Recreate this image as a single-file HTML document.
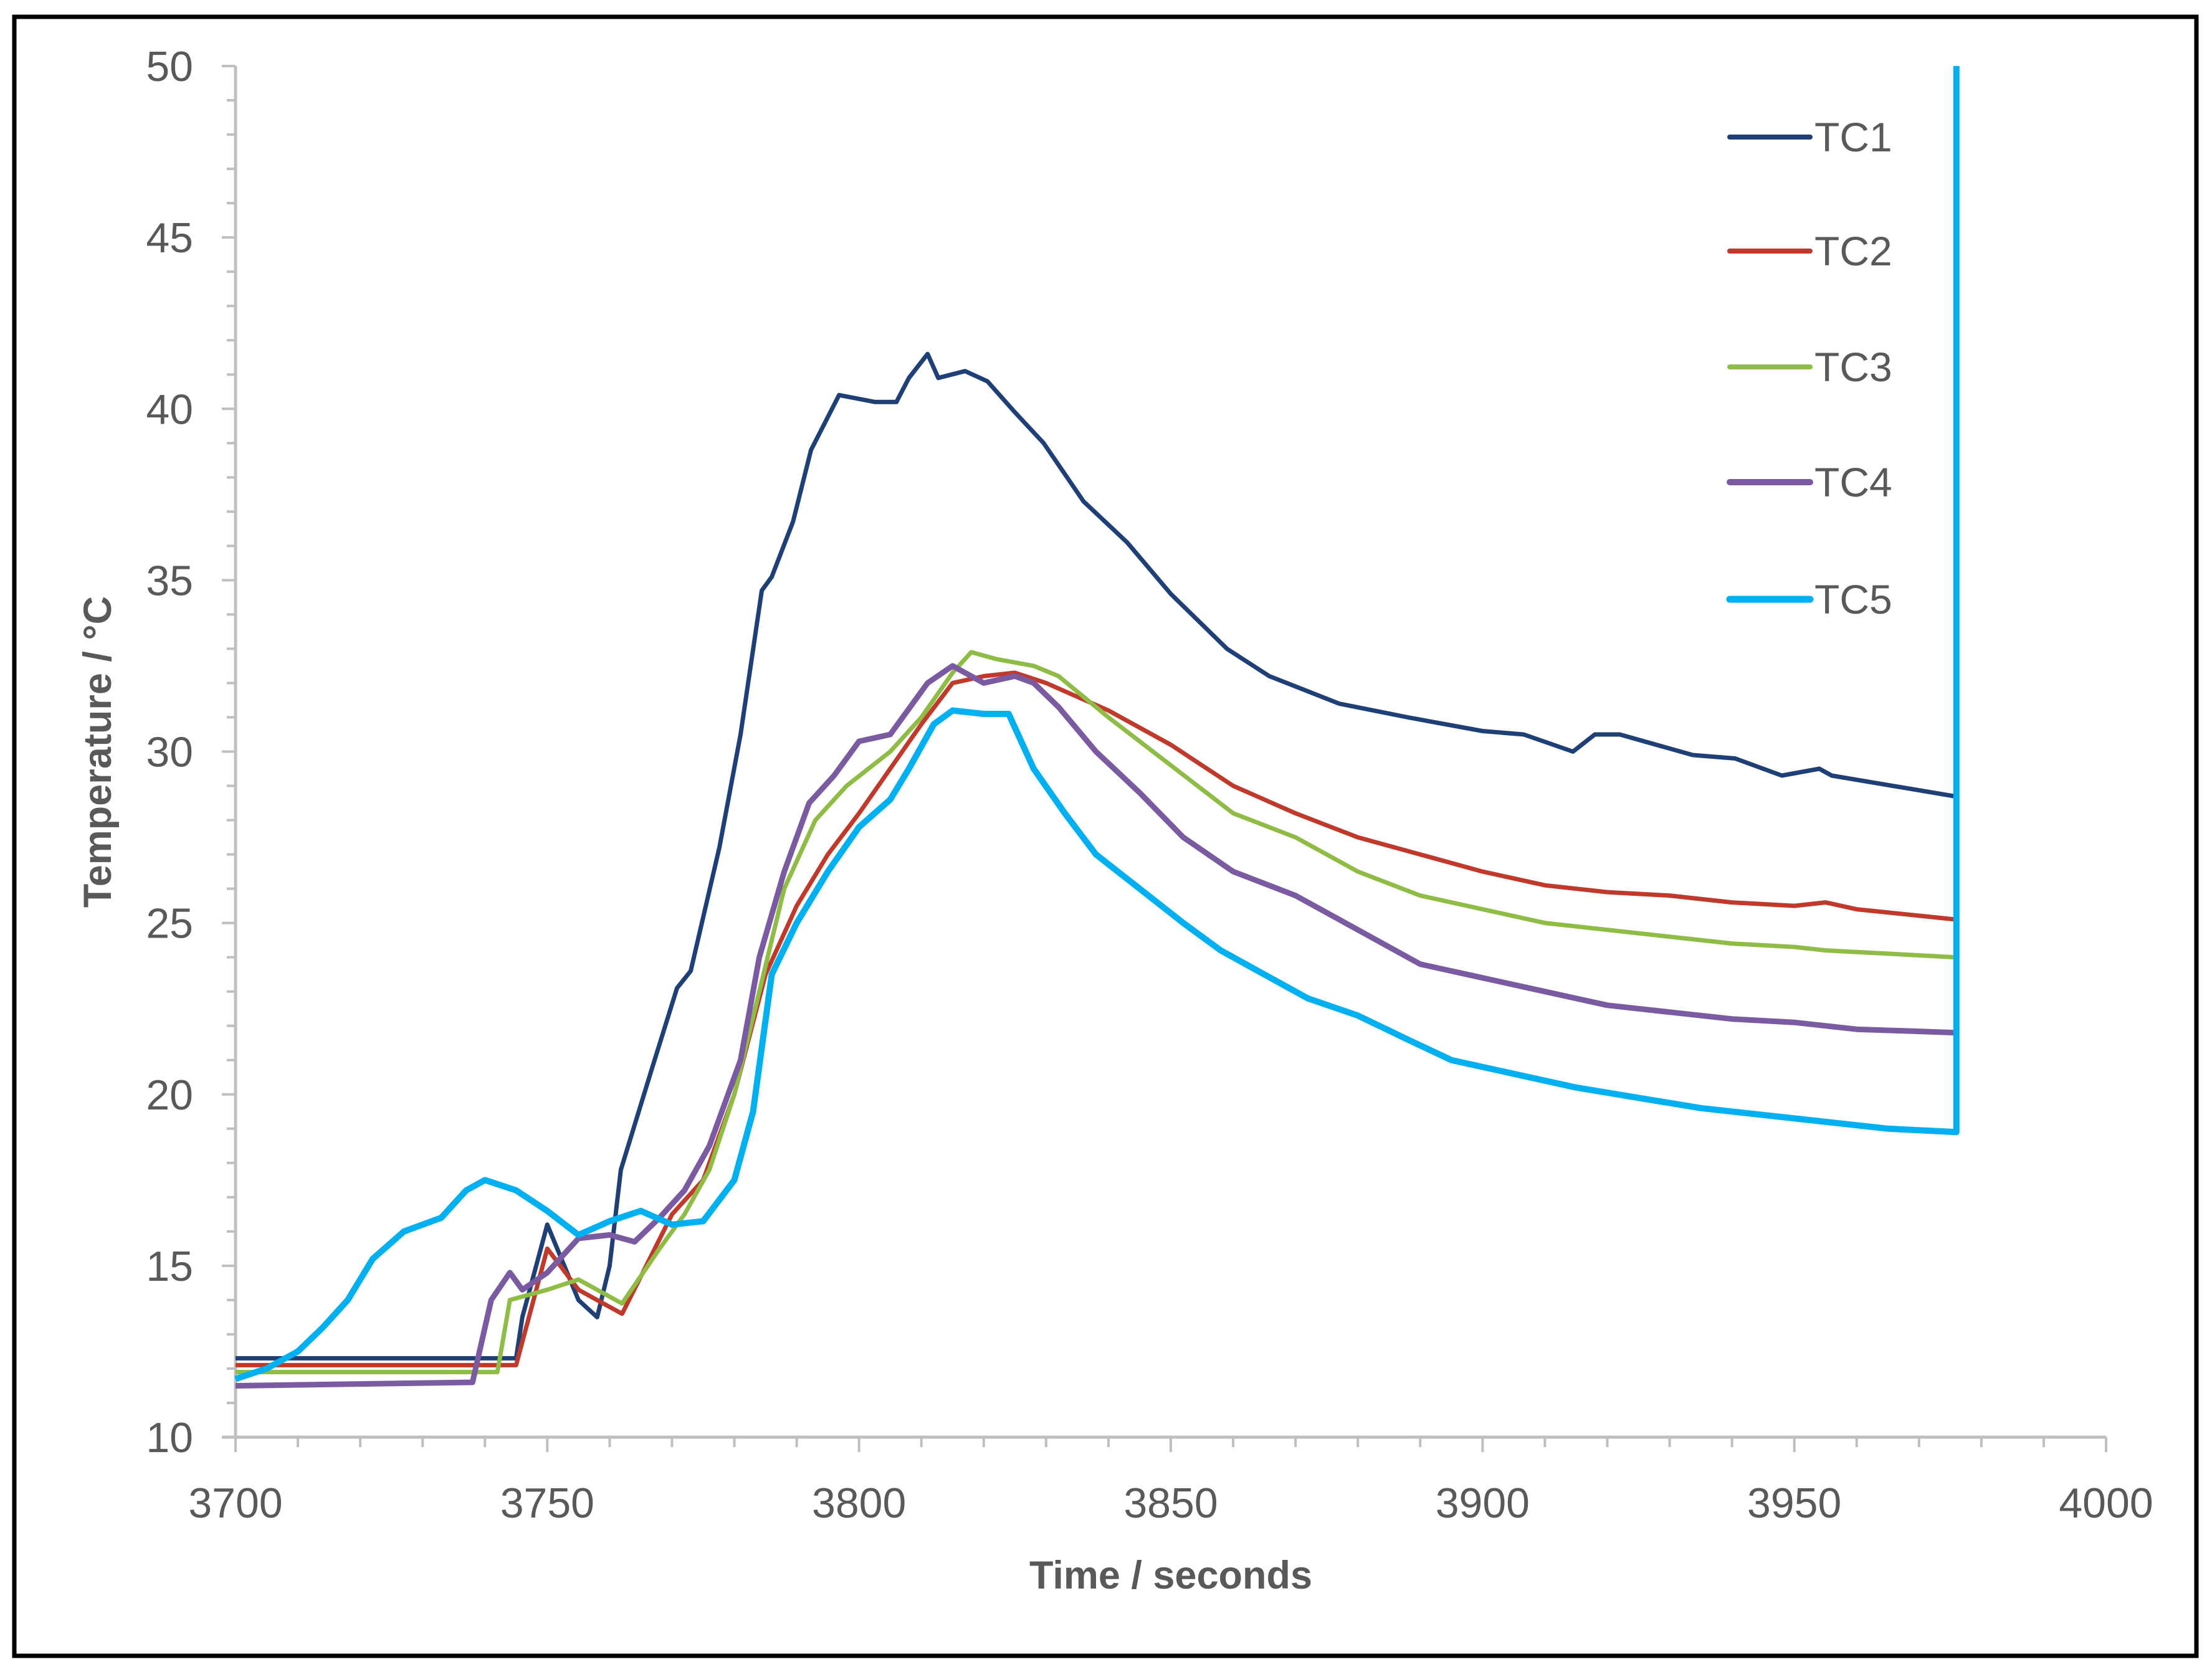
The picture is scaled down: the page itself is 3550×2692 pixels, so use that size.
<!DOCTYPE html>
<html><head><meta charset="utf-8"><style>
html,body{margin:0;padding:0;background:#fff;}
svg{display:block;}
text{font-family:"Liberation Sans",sans-serif;fill:#595959;}
</style></head><body>
<svg id="chart" width="3550" height="2692" viewBox="0 0 3550 2692" xmlns="http://www.w3.org/2000/svg">
<rect x="23" y="27" width="3502" height="2631" fill="#fff" stroke="#000" stroke-width="7"/>
<g id="axes"></g>
<g id="series"></g>
<g id="legend"></g>
<text transform="translate(178,1207) rotate(-90)" text-anchor="middle" font-size="63" font-weight="bold">Temperature / °C</text>
<text x="1879" y="2550" text-anchor="middle" font-size="63" font-weight="bold">Time / seconds</text>
</svg>
<script>
const xTicks=[3700,3750,3800,3850,3900,3950,4000];
const yTicks=[10,15,20,25,30,35,40,45,50];
const seriesNames=["TC1","TC2","TC3","TC4","TC5"];
const tc1T=[3700,3745,3746,3750,3755,3758,3760,3761.8,3766.7,3770.8,3773,3777.6,3781,3784.4,3786,3789.4,3792.3,3796.8,3802.5,3806,3808,3811,3812.7,3817,3820.6,3825,3829.6,3836,3843,3850,3859,3865.8,3877,3888,3900,3906.6,3914.5,3918,3922,3933.7,3940.5,3948,3954,3956,3975.6];
const tc1V=[12.3,12.3,13.5,16.2,14,13.5,15,17.8,20.7,23.1,23.6,27.2,30.5,34.7,35.1,36.7,38.8,40.4,40.2,40.2,40.9,41.6,40.9,41.1,40.8,39.9,39,37.3,36.1,34.6,33,32.2,31.4,31,30.6,30.5,30,30.5,30.5,29.9,29.8,29.3,29.5,29.3,28.7];
const tc2T=[3700,3745,3750,3755,3762,3770,3775,3780,3785,3790,3795,3800,3805,3810,3815,3820,3825,3830,3840,3850,3860,3870,3880,3890,3900,3910,3920,3930,3940,3950,3955,3960,3976];
const tc2V=[12.1,12.1,15.5,14.3,13.6,16.5,17.5,20,23.5,25.5,27,28.2,29.5,30.8,32,32.2,32.3,32,31.2,30.2,29,28.2,27.5,27,26.5,26.1,25.9,25.8,25.6,25.5,25.6,25.4,25.1];
const tc3T=[3700,3742,3744,3750,3755,3762,3768,3772,3776,3780,3784,3788,3793,3798,3805,3810,3815,3818,3822,3828,3832,3840,3850,3860,3870,3880,3890,3900,3910,3920,3930,3940,3950,3955,3976];
const tc3V=[11.9,11.9,14,14.3,14.6,13.9,15.5,16.5,17.8,20,23,26,28,29,30,31,32.3,32.9,32.7,32.5,32.2,31,29.6,28.2,27.5,26.5,25.8,25.4,25,24.8,24.6,24.4,24.3,24.2,24];
const tc4T=[3700,3738,3741,3744,3746,3750,3755,3760,3764,3768,3772,3776,3781,3784,3788,3792,3796,3800,3805,3811,3815,3820,3825,3828,3832,3838,3845,3852,3860,3870,3880,3890,3900,3910,3920,3930,3940,3950,3960,3976];
const tc4V=[11.5,11.6,14,14.8,14.3,14.8,15.8,15.9,15.7,16.4,17.2,18.5,21,24,26.5,28.5,29.3,30.3,30.5,32,32.5,32,32.2,32,31.3,30,28.8,27.5,26.5,25.8,24.8,23.8,23.4,23,22.6,22.4,22.2,22.1,21.9,21.8];
const tc5T=[3700,3705,3710,3714,3718,3722,3727,3733,3737,3740,3745,3750,3755,3760,3765,3770,3775,3780,3783,3786,3790,3795,3800,3805,3808,3812,3815,3820,3824,3828,3833,3838,3845,3852,3858,3865,3872,3880,3888,3895,3905,3915,3925,3935,3945,3955,3965,3976,3976];
const tc5V=[11.7,12,12.5,13.2,14,15.2,16,16.4,17.2,17.5,17.2,16.6,15.9,16.3,16.6,16.2,16.3,17.5,19.5,23.5,25,26.5,27.8,28.6,29.5,30.8,31.2,31.1,31.1,29.5,28.2,27,26,25,24.2,23.5,22.8,22.3,21.6,21,20.6,20.2,19.9,19.6,19.4,19.2,19,18.9,50];

const X0=378,X1=3380,Y0=2307,Y1=106;
const xs=t=>X0+(t-3700)/(4000-3700)*(X1-X0);
const ys=v=>Y0-(v-10)/(50-10)*(Y0-Y1);
const NS="http://www.w3.org/2000/svg";
function mk(tag,attrs,parent){const e=document.createElementNS(NS,tag);for(const k in attrs)e.setAttribute(k,attrs[k]);parent.appendChild(e);return e;}
const axes=document.getElementById('axes');
for(let v=10;v<=50;v++){const major=v%5===0;
 const tk=mk('line',{x1:X0-(major?22:14),x2:X0,y1:ys(v),y2:ys(v),stroke:'#bfbfbf','stroke-width':4},axes);
 
 }
for(let t=3700;t<=4000;t+=10){const major=t%50===0;
 const tk=mk('line',{x1:xs(t),x2:xs(t),y1:Y0,y2:Y0+(major?24:16),stroke:'#bfbfbf','stroke-width':4},axes);
 
 }
const ya=mk('line',{x1:X0,x2:X0,y1:Y1,y2:Y0,stroke:'#bfbfbf','stroke-width':5},axes);


const xa=mk('line',{x1:X0-22,x2:X1,y1:Y0,y2:Y0,stroke:'#bfbfbf','stroke-width':5},axes);


yTicks.forEach(v=>{const t=mk('text',{x:310,y:ys(v)+24,'text-anchor':'end','font-size':68},axes);t.textContent=v;
 
 });
xTicks.forEach(v=>{const t=mk('text',{x:xs(v),y:2436,'text-anchor':'middle','font-size':68},axes);t.textContent=v;
 
 });
const colors=['#1f3f77','#c0392b','#8fbc45','#7a5aa0','#00b0f0'];
const widths=[7,7,7,9,10];
const data=[[tc1T,tc1V],[tc2T,tc2V],[tc3T,tc3V],[tc4T,tc4V],[tc5T,tc5V]];
const sg=document.getElementById('series');
data.forEach((d,i)=>{const pts=d[0].map((t,j)=>xs(t).toFixed(1)+','+ys(d[1][j]).toFixed(1)).join(' ');
 const p=mk('polyline',{points:pts,fill:'none',stroke:colors[i],'stroke-width':widths[i],'stroke-linejoin':'round'},sg);
 
 });
const lg=document.getElementById('legend');
const legY=[220,403,589,774,962];
seriesNames.forEach((n,i)=>{
 const l=mk('line',{x1:2776,x2:2905,y1:legY[i],y2:legY[i],stroke:colors[i],'stroke-width':widths[i]+1,'stroke-linecap':'round'},lg);
 
 
 const t=mk('text',{x:2912,y:legY[i]+23,'font-size':66},lg);t.textContent=n;
 
 });
</script>
</body></html>
